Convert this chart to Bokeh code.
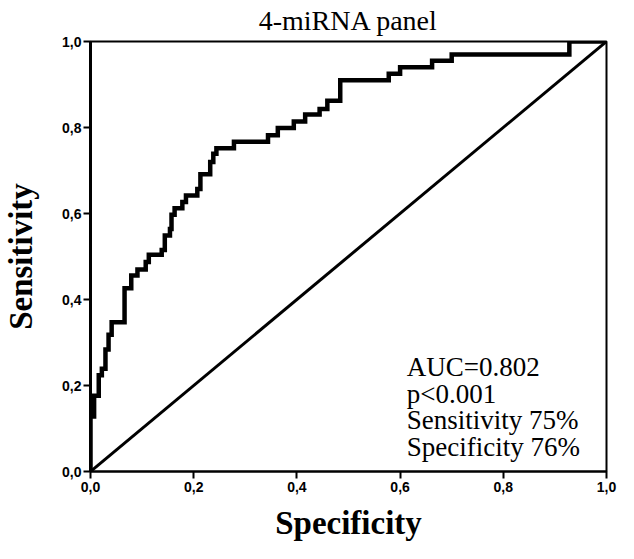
from bokeh.plotting import figure
from bokeh.models import Range1d, FixedTicker
from bokeh.core.properties import value
from bokeh.embed import file_html
from bokeh.resources import INLINE

# ---- data ----
tick_values = [0.0, 0.2, 0.4, 0.6, 0.8, 1.0]
tick_labels = ["0,0", "0,2", "0,4", "0,6", "0,8", "1,0"]

# ROC step corners (x = specificity axis, y = sensitivity)
roc_x = [0.0, 0.0, 0.007, 0.016, 0.022, 0.029, 0.035, 0.041, 0.066, 0.079,
         0.091, 0.107, 0.113, 0.138, 0.144, 0.154, 0.157, 0.163, 0.178, 0.185,
         0.207, 0.213, 0.232, 0.238, 0.244, 0.278, 0.344, 0.363, 0.394, 0.416,
         0.444, 0.459, 0.484, 0.578, 0.600, 0.662, 0.700, 0.928, 1.0]
roc_y = [0.0, 0.128, 0.176, 0.224, 0.239, 0.284, 0.318, 0.347, 0.426, 0.456,
         0.470, 0.487, 0.504, 0.515, 0.549, 0.564, 0.597, 0.612, 0.627, 0.642,
         0.657, 0.691, 0.720, 0.739, 0.752, 0.767, 0.782, 0.799, 0.814, 0.830,
         0.843, 0.862, 0.910, 0.925, 0.940, 0.955, 0.970, 1.0, 1.0]

ref_x = [0.0, 1.0]
ref_y = [0.0, 1.0]

annot_lines = ["AUC=0.802", "p<0.001", "Sensitivity 75%", "Specificity 76%"]
annot_x = [0.613, 0.613, 0.613, 0.613]
annot_y = [0.244, 0.181, 0.119, 0.056]

title_text = "4-miRNA panel"
x_label = "Specificity"
y_label = "Sensitivity"

# ---- figure ----
p = figure(width=618, height=543, output_backend="svg", toolbar_location=None,
           x_range=Range1d(0, 1), y_range=Range1d(0, 1),
           min_border_left=88, min_border_right=12, min_border_top=40,
           min_border_bottom=70)
p.background_fill_color = "white"
p.border_fill_color = "white"
p.outline_line_color = "black"
p.outline_line_width = 2
p.grid.visible = False

p.title.text = title_text
p.title.align = "center"
p.title.vertical_align = "top"
p.title.text_font = "Liberation Serif"
p.title.text_font_size = "28px"
p.title.text_font_style = "normal"
p.title.text_color = "black"
p.title.standoff = 8
p.title.offset = 0

for ax in (p.xaxis[0], p.yaxis[0]):
    ax.ticker = FixedTicker(ticks=tick_values)
    ax.major_label_overrides = {v: l for v, l in zip(tick_values, tick_labels)}
    ax.major_label_text_font = "Liberation Sans"
    ax.major_label_text_font_style = "bold"
    ax.major_label_text_font_size = "14px"
    ax.major_label_text_color = "black"
    ax.major_tick_in = 0
    ax.major_tick_out = 7
    ax.major_tick_line_width = 2
    ax.major_tick_line_color = "black"
    ax.minor_tick_line_color = None
    ax.axis_line_color = "black"
    ax.axis_label_text_font = "Liberation Serif"
    ax.axis_label_text_font_style = "bold"
    ax.axis_label_text_font_size = "33px"
    ax.axis_label_text_color = "black"

p.xaxis.axis_label = x_label
p.yaxis.axis_label = y_label
p.xaxis.axis_line_width = 2
p.yaxis.axis_line_width = 3
p.xaxis.major_label_standoff = 3
p.yaxis.major_label_standoff = 2
p.xaxis.axis_label_standoff = 10
p.yaxis.axis_label_standoff = 20

p.line(ref_x, ref_y, line_color="black", line_width=3)
p.step(roc_x, roc_y, mode="after", line_color="black", line_width=4.5,
       line_join="miter")

p.text(x=annot_x, y=annot_y, text=annot_lines, text_font=value("Liberation Serif"),
       text_font_size="27px", text_color="black", text_baseline="alphabetic",
       text_align="left")

open("out.html", "w").write(file_html(p, INLINE))
